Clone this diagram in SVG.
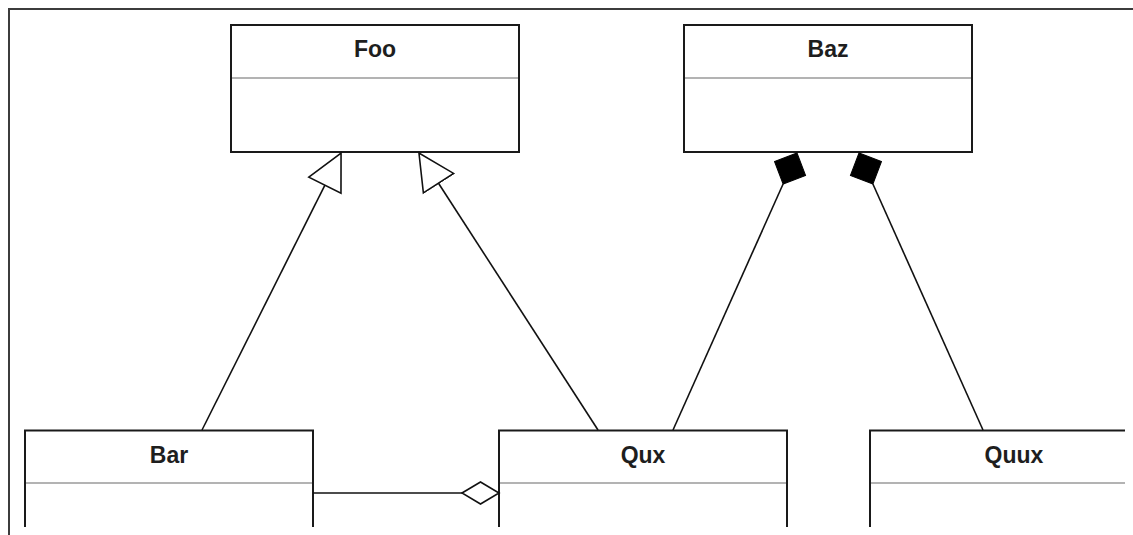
<svg xmlns="http://www.w3.org/2000/svg" width="1133" height="535" viewBox="0 0 1133 535">
  <style>
    .box { fill: #ffffff; stroke: #1a1a1a; stroke-width: 2; }
    .divider { stroke: #9a9a9a; stroke-width: 1.5; }
    .title { font-family: "Liberation Sans", Arial, sans-serif; font-weight: bold; font-size: 23px; fill: #1e1e1e; text-anchor: middle; }
    .edge { fill: none; stroke: #111111; stroke-width: 1.6; }
    .frame { stroke: #3c3c3c; stroke-width: 2; }
  </style>
  <defs>
    <!-- hollow triangle: generalization -->
    <marker id="inherit" markerUnits="userSpaceOnUse" markerWidth="42" markerHeight="42" viewBox="0 0 42 42" refX="1" refY="21" orient="auto">
      <path d="M1,3 L37,21 L1,39 Z" fill="#ffffff" stroke="#111111" stroke-width="1.6"/>
    </marker>
    <!-- filled diamond: composition -->
    <marker id="compose" markerUnits="userSpaceOnUse" markerWidth="40" markerHeight="40" viewBox="0 0 40 40" refX="1" refY="20" orient="auto">
      <path d="M1,20 L18,3 L35,20 L18,37 Z" fill="#000000" stroke="#000000" stroke-width="1"/>
    </marker>
    <!-- hollow diamond: aggregation -->
    <marker id="aggregate" markerUnits="userSpaceOnUse" markerWidth="42" markerHeight="30" viewBox="0 0 42 30" refX="1" refY="15" orient="auto">
      <path d="M1,15 L19.5,4 L38,15 L19.5,26 Z" fill="#ffffff" stroke="#111111" stroke-width="1.6"/>
    </marker>
    <clipPath id="canvas">
      <rect x="10" y="10" width="1115" height="517"/>
    </clipPath>
  </defs>

  <rect width="1133" height="535" fill="#ffffff"/>

  <g clip-path="url(#canvas)">
    <g id="Foo">
      <rect class="box" x="231" y="25" width="288" height="127"/>
      <line class="divider" x1="232" y1="78" x2="518" y2="78"/>
      <text class="title" x="375" y="57">Foo</text>
    </g>
    <g id="Baz">
      <rect class="box" x="684" y="25" width="288" height="127"/>
      <line class="divider" x1="685" y1="78" x2="971" y2="78"/>
      <text class="title" x="828" y="57">Baz</text>
    </g>
    <g id="Bar">
      <rect class="box" x="25" y="430.5" width="288" height="127"/>
      <line class="divider" x1="26" y1="483" x2="312" y2="483"/>
      <text class="title" x="169" y="462.5">Bar</text>
    </g>
    <g id="Qux">
      <rect class="box" x="499" y="430.5" width="288" height="127"/>
      <line class="divider" x1="500" y1="483" x2="786" y2="483"/>
      <text class="title" x="643" y="462.5">Qux</text>
    </g>
    <g id="Quux">
      <rect class="box" x="870" y="430.5" width="288" height="127"/>
      <line class="divider" x1="871" y1="483" x2="1157" y2="483"/>
      <text class="title" x="1014" y="462.5">Quux</text>
    </g>

    <g id="connectors">
      <!-- Bar extends Foo -->
      <line class="edge" x1="202" y1="430" x2="324.9" y2="185.2" marker-end="url(#inherit)"/>
      <!-- Qux extends Foo -->
      <line class="edge" x1="598" y1="430" x2="438.5" y2="183.2" marker-end="url(#inherit)"/>
      <!-- Baz composed of Qux -->
      <line class="edge" x1="673" y1="430" x2="783.1" y2="184" marker-end="url(#compose)"/>
      <!-- Baz composed of Quux -->
      <line class="edge" x1="983" y1="430" x2="872.9" y2="184" marker-end="url(#compose)"/>
      <!-- Qux aggregates Bar -->
      <line class="edge" x1="313" y1="493" x2="462" y2="493" marker-end="url(#aggregate)"/>
    </g>
  </g>

  <!-- canvas border -->
  <line class="frame" x1="8" y1="9" x2="1133" y2="9"/>
  <line class="frame" x1="9" y1="8" x2="9" y2="535"/>
</svg>
